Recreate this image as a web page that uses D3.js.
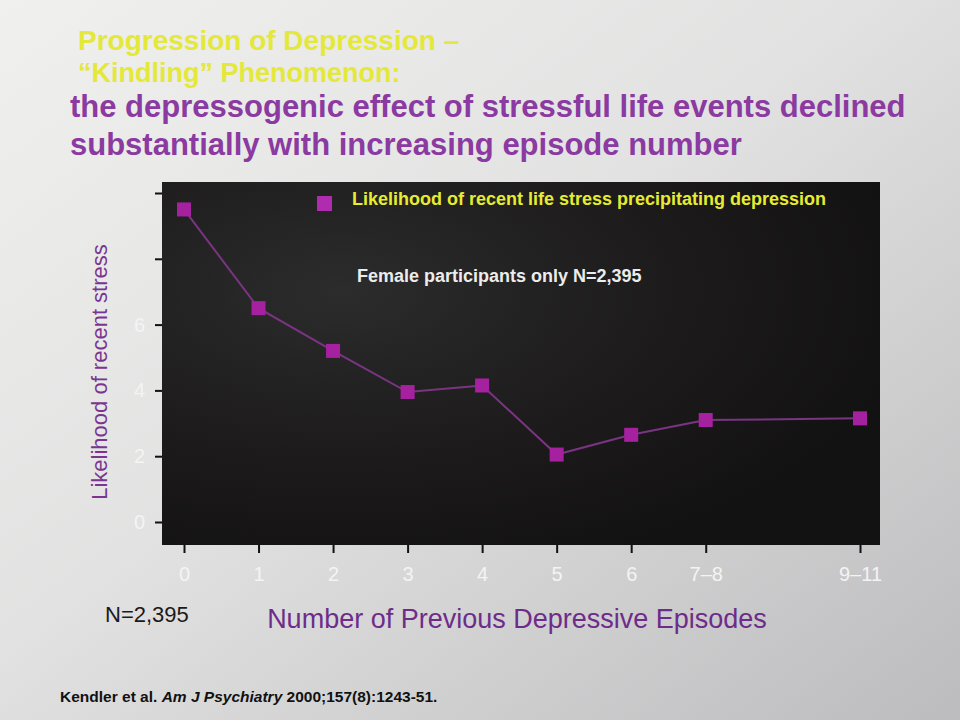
<!DOCTYPE html>
<html>
<head>
<meta charset="utf-8">
<script src="https://cdn.jsdelivr.net/npm/d3@7"></script>
<style>
  body { margin: 0; background: #d8d8d8; }
  svg { display: block; font-family: "Liberation Sans", Arial, sans-serif; }
</style>
</head>
<body>
<svg id="chart" width="960" height="720"></svg>
<script>
// --- data ---
const episodeLabels = ["0", "1", "2", "3", "4", "5", "6", "7–8", "9–11"];
const episodePos = [0, 1, 2, 3, 4, 5, 6, 7, 9.07];   // where each category sits on the axis
const likelihood = [9.5, 6.5, 5.2, 3.95, 4.15, 2.05, 2.65, 3.1, 3.15];
const yTicks = [0, 2, 4, 6, 8, 10];
const yTickLabels = ["0", "2", "4", "6", "", ""]; // 8 and 10 are washed out on the slide

const seriesName = "Likelihood of recent life stress precipitating depression";

const svg = d3.select("#chart");
const defs = svg.append("defs");

// slide background, lit a bit unevenly
const bg = defs.append("linearGradient").attr("id", "bg")
  .attr("x1", "0%").attr("y1", "0%").attr("x2", "100%").attr("y2", "100%");
bg.append("stop").attr("offset", "0%").attr("stop-color", "#f0f0ee");
bg.append("stop").attr("offset", "45%").attr("stop-color", "#e2e2e2");
bg.append("stop").attr("offset", "100%").attr("stop-color", "#bcbcbe");

const frameGrad = defs.append("radialGradient").attr("id", "frameGrad")
  .attr("cx", "25%").attr("cy", "30%").attr("r", "80%");
frameGrad.append("stop").attr("offset", "0%").attr("stop-color", "#2c2c2c");
frameGrad.append("stop").attr("offset", "60%").attr("stop-color", "#1c1a1b");
frameGrad.append("stop").attr("offset", "100%").attr("stop-color", "#131213");

svg.append("rect").attr("width", 960).attr("height", 720).attr("fill", "url(#bg)");

// --- titles ---
const yellow = "#e4e83a";
const purple = "#8a3aa0";

svg.append("text").attr("x", 78).attr("y", 50)
  .style("font-size", "28px").style("font-weight", "bold").attr("fill", yellow)
  .text("Progression of Depression –");
svg.append("text").attr("x", 78).attr("y", 82)
  .style("font-size", "27px").style("font-weight", "bold").attr("fill", yellow)
  .text("“Kindling” Phenomenon:");
svg.append("text").attr("x", 70).attr("y", 117)
  .style("font-size", "31px").style("font-weight", "bold").attr("fill", purple)
  .text("the depressogenic effect of stressful life events declined");
svg.append("text").attr("x", 70).attr("y", 155)
  .style("font-size", "31px").style("font-weight", "bold").attr("fill", purple)
  .text("substantially with increasing episode number");

// --- plot frame and scales ---
const frame = { left: 162, top: 182, right: 880, bottom: 545 };

const x = d3.scaleLinear().domain([0, 9.07]).range([184, 860]);
const y = d3.scaleLinear().domain([0, 10]).range([522, 193]);

svg.append("rect")
  .attr("x", frame.left).attr("y", frame.top)
  .attr("width", frame.right - frame.left).attr("height", frame.bottom - frame.top)
  .attr("fill", "url(#frameGrad)");

// y axis ticks (outside the frame, left)
const yAxis = svg.append("g").attr("transform", `translate(${frame.left},0)`)
  .call(d3.axisLeft(y).tickValues(yTicks).tickSize(7).tickPadding(10)
    .tickFormat((d, i) => yTickLabels[i]));
yAxis.select(".domain").remove();
yAxis.selectAll("line").attr("stroke", "#111").attr("stroke-width", 2);
yAxis.selectAll("text").attr("fill", "#f4f4f4")
  .style("font-size", "20px").style("font-family", "Liberation Sans, Arial, sans-serif");

// x axis ticks (below the frame)
const xAxis = svg.append("g").attr("transform", `translate(0,${frame.bottom})`)
  .call(d3.axisBottom(x).tickValues(episodePos).tickSize(8).tickPadding(14)
    .tickFormat((d, i) => episodeLabels[i]));
xAxis.select(".domain").remove();
xAxis.selectAll("line").attr("stroke", "#111").attr("stroke-width", 2);
xAxis.selectAll("text").attr("fill", "#f4f4f4")
  .style("font-size", "20px").style("font-family", "Liberation Sans, Arial, sans-serif");

// --- series ---
const points = episodePos.map((p, i) => ({ p, v: likelihood[i] }));

svg.append("path")
  .datum(points)
  .attr("fill", "none")
  .attr("stroke", "#7a3482")
  .attr("stroke-width", 2)
  .attr("d", d3.line().x(d => x(d.p)).y(d => y(d.v)));

const mk = 14;
svg.selectAll(".marker")
  .data(points)
  .enter()
  .append("rect")
  .attr("class", "marker")
  .attr("x", d => x(d.p) - mk / 2)
  .attr("y", d => y(d.v) - mk / 2)
  .attr("width", mk).attr("height", mk)
  .attr("fill", "#a6219f");

// --- legend & note inside the frame ---
svg.append("rect").attr("x", 317).attr("y", 196).attr("width", 15).attr("height", 15)
  .attr("fill", "#b02cae");
svg.append("text").attr("x", 352).attr("y", 205)
  .style("font-size", "18px").style("font-weight", "bold").attr("fill", "#e6ec30")
  .text(seriesName);

svg.append("text").attr("x", 357).attr("y", 282)
  .style("font-size", "18px").style("font-weight", "bold").attr("fill", "#ececec")
  .text("Female participants only N=2,395");

// --- axis titles ---
svg.append("text")
  .attr("transform", "translate(107,372) rotate(-90)")
  .attr("text-anchor", "middle")
  .style("font-size", "22px").attr("fill", "#7a3590")
  .text("Likelihood of recent stress");

svg.append("text").attr("x", 517).attr("y", 628).attr("text-anchor", "middle")
  .style("font-size", "27px").attr("fill", "#6e2c8a")
  .text("Number of Previous Depressive Episodes");

svg.append("text").attr("x", 105).attr("y", 622)
  .style("font-size", "22px").attr("fill", "#1a1a1a")
  .text("N=2,395");

// --- citation ---
const cite = svg.append("text").attr("x", 60).attr("y", 702)
  .style("font-size", "15.5px").style("font-weight", "bold").attr("fill", "#111");
cite.append("tspan").text("Kendler et al. ");
cite.append("tspan").style("font-style", "italic").text("Am J Psychiatry");
cite.append("tspan").text(" 2000;157(8):1243-51.");
</script>
</body>
</html>
